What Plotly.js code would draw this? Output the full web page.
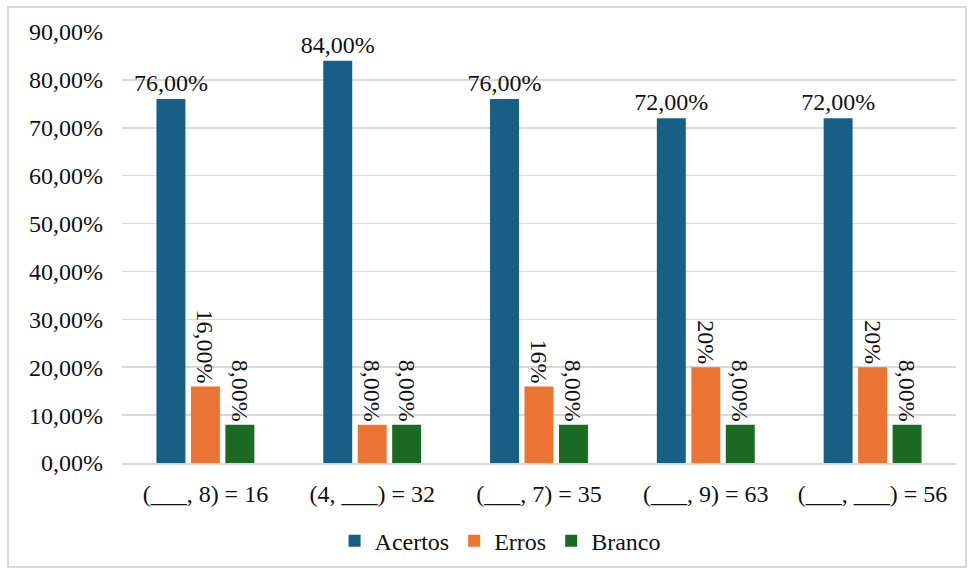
<!DOCTYPE html>
<html>
<head>
<meta charset="utf-8">
<script src="https://cdn.plot.ly/plotly-3.0.1.min.js"></script>
<style>
html,body{margin:0;padding:0;background:#fff;}
#wrap{position:relative;width:971px;height:572px;}
#chart{width:971px;height:572px;}
#frame{position:absolute;left:7px;top:6px;width:956px;height:558px;border:2px solid #d9d9d9;pointer-events:none;}
</style>
</head>
<body>
<div id="wrap"><div id="chart"></div><div id="frame"></div></div>
<script>
const categories = ["(___, 8) = 16", "(4, ___) = 32", "(___, 7) = 35", "(___, 9) = 63", "(___, ___) = 56"];
const acertos = [76, 84, 76, 72, 72];
const erros = [16, 8, 16, 20, 20];
const branco = [8, 8, 8, 8, 8];
const acertosLabels = ["76,00%", "84,00%", "76,00%", "72,00%", "72,00%"];
const errosLabels = ["16,00%", "8,00%", "16%", "20%", "20%"];
const brancoLabels = ["8,00%", "8,00%", "8,00%", "8,00%", "8,00%"];
const yTicks = [0, 10, 20, 30, 40, 50, 60, 70, 80, 90];
const yTickLabels = ["0,00%", "10,00%", "20,00%", "30,00%", "40,00%", "50,00%", "60,00%", "70,00%", "80,00%", "90,00%"];

const font = {family: "'Times New Roman', 'Liberation Serif', 'DejaVu Serif', serif", size: 24, color: "#111"};

const traces = [
  {type: "bar", name: "Acertos", x: categories, y: acertos, text: acertosLabels,
   textposition: "outside", textangle: 0, constraintext: "none", marker: {color: "#175f84"},
   textfont: font, cliponaxis: false, hoverinfo: "none"},
  {type: "bar", name: "Erros", x: categories, y: erros, text: errosLabels,
   textposition: "outside", textangle: 90, constraintext: "none", marker: {color: "#eb7433"},
   textfont: font, cliponaxis: false, hoverinfo: "none"},
  {type: "bar", name: "Branco", x: categories, y: branco, text: brancoLabels,
   textposition: "outside", textangle: 90, constraintext: "none", marker: {color: "#1b6b25"},
   textfont: font, cliponaxis: false, hoverinfo: "none"}
];

const layout = {
  width: 971, height: 572,
  margin: {l: 122, r: 15, t: 32, b: 109},
  paper_bgcolor: "#fff", plot_bgcolor: "#fff",
  font: font,
  barmode: "group",
  bargap: 0.38,
  bargroupgap: 0.16,
  showlegend: true,
  legend: {orientation: "h", xref: "container", yref: "container",
           x: 0.515, xanchor: "center", y: 0.054, yanchor: "middle",
           font: font, traceorder: "normal", itemwidth: 30},
  xaxis: {type: "category", showgrid: false, showline: true, linecolor: "#d9d9d9", linewidth: 2,
          ticks: "", tickfont: font, ticklabelstandoff: 8, automargin: false},
  yaxis: {range: [0, 90], tickvals: yTicks, ticktext: yTickLabels,
          showgrid: true, gridcolor: "#d9d9d9", gridwidth: 1.5, zeroline: false,
          showline: false, ticks: "", tickfont: font, ticklabelstandoff: 18, automargin: false}
};

Plotly.newPlot("chart", traces, layout, {displayModeBar: false, staticPlot: true});
</script>
</body>
</html>
